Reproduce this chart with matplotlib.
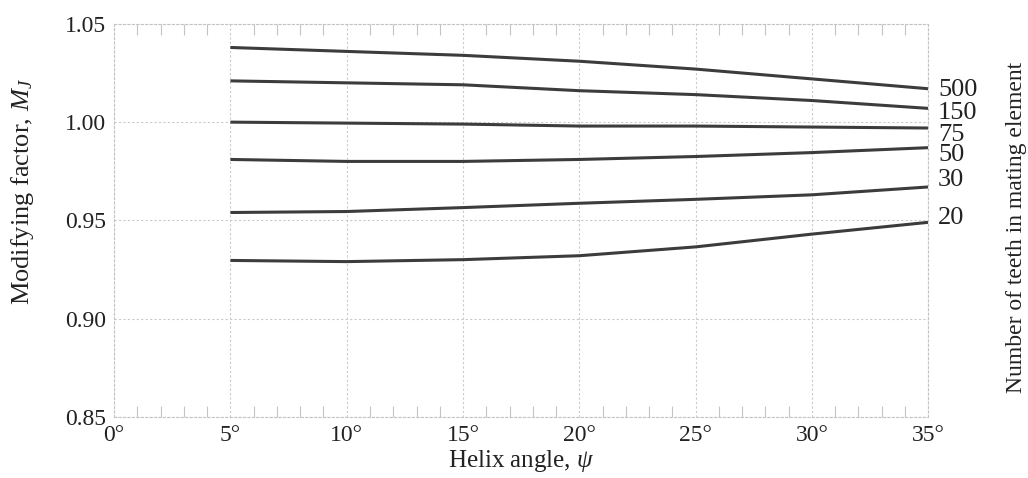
import matplotlib

matplotlib.use("Agg")

import matplotlib.pyplot as plt
import numpy as np
from matplotlib.ticker import MultipleLocator
from matplotlib.transforms import blended_transform_factory

plt.rcParams["font.family"] = ["Liberation Serif", "DejaVu Serif"]
plt.rcParams["mathtext.fontset"] = "custom"
plt.rcParams["mathtext.rm"] = "Liberation Serif"
plt.rcParams["mathtext.it"] = "Liberation Serif:italic"

# helix angle (deg) and modifying factor M_J, one curve per tooth count
helix_angle = [5, 10, 15, 20, 25, 30, 35]
curves = {
    "500": [1.038, 1.036, 1.034, 1.031, 1.027, 1.022, 1.017],
    "150": [1.021, 1.020, 1.019, 1.016, 1.014, 1.011, 1.007],
    "75": [1.000, 0.9995, 0.999, 0.998, 0.998, 0.9975, 0.997],
    "50": [0.981, 0.980, 0.980, 0.981, 0.9825, 0.9845, 0.987],
    "30": [0.954, 0.9545, 0.9565, 0.9587, 0.9607, 0.963, 0.967],
    "20": [0.9296, 0.929, 0.930, 0.932, 0.9365, 0.943, 0.949],
}
# vertical position of each curve label at the right edge
label_pos = [1.0163, 1.0046, 0.9934, 0.9832, 0.9704, 0.9511]

x_ticks = [0, 5, 10, 15, 20, 25, 30, 35]
y_ticks = [0.85, 0.90, 0.95, 1.00, 1.05]

fig = plt.figure(figsize=(10.28, 4.78), dpi=100)
ax = fig.add_axes([0.111, 0.128, 0.792, 0.822])

for name, values in curves.items():
    ax.plot(helix_angle, values, color="#3c3c3c", linewidth=2.2,
            solid_capstyle="butt")

trans = blended_transform_factory(ax.transAxes, ax.transData)
for name, ly in zip(curves.keys(), label_pos):
    ax.text(1.012, ly, name, transform=trans, fontsize=19,
            va="center", ha="left", color="#222222")

ax.set_xlim(0, 35)
ax.set_ylim(0.85, 1.05)
ax.set_xticks(x_ticks)
ax.set_xticklabels([f"{t}\u00b0" for t in x_ticks])
ax.set_yticks(y_ticks)
ax.set_yticklabels([f"{t:.2f}" for t in y_ticks])
ax.xaxis.set_minor_locator(MultipleLocator(1))

ax.grid(True, which="major", color="#cacaca", linestyle=(0, (2, 2)),
        linewidth=0.8)
ax.tick_params(axis="both", which="major", length=0, labelsize=17,
               labelcolor="#222222", pad=6)
ax.tick_params(axis="x", which="minor", direction="in", length=8,
               width=0.8, color="#c4c4c4", top=True, bottom=True)
for spine in ax.spines.values():
    spine.set_color("#c4c4c4")
    spine.set_linestyle((0, (2, 2)))
    spine.set_linewidth(0.8)

fig.text(0.022, 0.60, r"Modifying factor, $M_J$", rotation=90,
         fontsize=19, ha="center", va="center", color="#222222")
fig.text(0.507, 0.036, r"Helix angle, $\psi$", fontsize=18,
         ha="center", va="center", color="#222222")
fig.text(0.989, 0.525, "Number of teeth in mating element", rotation=90,
         fontsize=17, ha="center", va="center", color="#222222")

fig.savefig("out.png", dpi=100)
plt.close(fig)
